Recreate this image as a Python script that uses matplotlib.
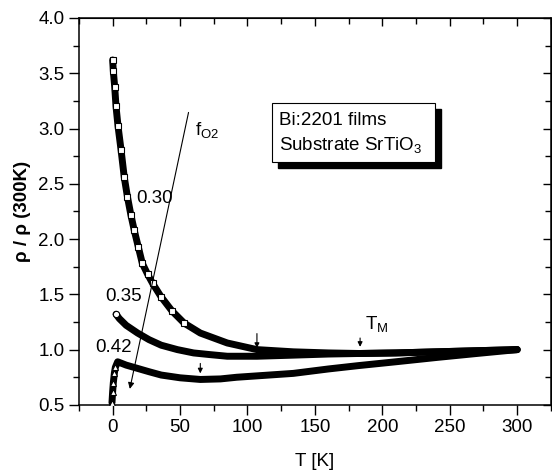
import matplotlib
matplotlib.use('Agg')
import matplotlib.pyplot as plt
from matplotlib.patches import Rectangle

plt.rcParams['font.family'] = ['Liberation Sans', 'DejaVu Sans']
plt.rcParams['mathtext.fontset'] = 'custom'
plt.rcParams['mathtext.rm'] = 'Liberation Sans'
plt.rcParams['mathtext.it'] = 'Liberation Sans:italic'

# f_O2 = 0.30 (squares)
T30 = [0, 0.5, 1.5, 2.5, 4, 6.2, 8.6, 11, 13.5, 16, 19, 22, 26, 29.6, 35.8, 44, 53,
       65, 85, 107, 134, 160, 183, 210, 240, 270, 300]
R30 = [3.62, 3.52, 3.38, 3.20, 3.02, 2.81, 2.56, 2.38, 2.22, 2.08, 1.93, 1.78, 1.68,
       1.60, 1.48, 1.35, 1.24, 1.15, 1.06, 1.00, 0.98, 0.97, 0.965, 0.97, 0.98, 0.99, 1.0]

# f_O2 = 0.35 (circles)
T35 = [2.5, 5, 10, 18.5, 27, 36, 48, 60, 72, 85, 107, 134, 160, 183, 210, 240, 270, 300]
R35 = [1.32, 1.28, 1.22, 1.15, 1.09, 1.04, 1.00, 0.97, 0.955, 0.94, 0.94, 0.95, 0.96,
       0.965, 0.97, 0.98, 0.99, 1.0]

# f_O2 = 0.42 (triangles)
T42 = [-0.5, 0, 0.5, 1.3, 2, 3.7, 10, 18.5, 27, 36, 50, 65, 80, 92, 110, 134, 160,
       182, 210, 241, 270, 300]
R42 = [0.52, 0.62, 0.70, 0.79, 0.84, 0.89, 0.86, 0.83, 0.80, 0.77, 0.745, 0.73, 0.735,
       0.75, 0.765, 0.785, 0.825, 0.855, 0.89, 0.93, 0.965, 1.0]

labels = ['0.30', '0.35', '0.42']
fs = 13.5

fig = plt.figure(figsize=(5.52, 4.73), dpi=100)
ax = fig.add_axes([0.143, 0.144, 0.855, 0.818])

# open markers only where the points are spread apart (steep part)
for T, R, m, n in [(T30, R30, 's', 17), (T35, R35, 'o', 1), (T42, R42, '^', 5)]:
    ax.plot(T, R, '-', color='k', lw=5, solid_capstyle='round', zorder=2)
    ax.plot(T[:n], R[:n], m, ms=4.5, mfc='white', mec='k', mew=0.8, zorder=3)

ax.text(17.5, 2.37, labels[0], fontsize=fs, va='center', ha='left')
ax.text(-5.5, 1.48, labels[1], fontsize=fs, va='center', ha='left')
ax.text(-13, 1.02, labels[2], fontsize=fs, va='center', ha='left')

# oxygen fraction arrow
ax.annotate('', xy=(12.3, 0.62), xytext=(56.7, 3.17),
            arrowprops=dict(arrowstyle='-|>', color='k', lw=0.8, mutation_scale=9))
ax.text(61, 2.99, r'f$_\mathrm{O2}$', fontsize=fs, va='center', ha='left')

# T_M arrows
arrow = dict(arrowstyle='-|>', color='k', lw=0.8, mutation_scale=7)
ax.annotate('', xy=(107, 0.99), xytext=(107, 1.17), arrowprops=arrow)
ax.annotate('', xy=(65, 0.76), xytext=(65, 0.90), arrowprops=arrow)
ax.annotate('', xy=(183.5, 1.0), xytext=(183.5, 1.13), arrowprops=arrow)
ax.text(187, 1.23, r'T$_\mathrm{M}$', fontsize=fs, va='center', ha='left')

# text box with shadow
ax.add_patch(Rectangle((122.5, 2.645), 121, 0.53, facecolor='k', edgecolor='k', zorder=4))
ax.add_patch(Rectangle((118, 2.70), 121, 0.53, facecolor='white', edgecolor='k',
                       lw=0.8, zorder=5))
ax.text(123, 3.07, 'Bi:2201 films', fontsize=fs, va='center', ha='left', zorder=6)
ax.text(123, 2.855, r'Substrate SrTiO$_\mathrm{3}$', fontsize=fs, va='center', ha='left', zorder=6)

ax.set_xlim(-25, 325)
ax.set_ylim(0.5, 4.0)
ax.set_xticks([0, 50, 100, 150, 200, 250, 300])
ax.set_xticks(range(-25, 326, 50), minor=True)
ax.set_yticks([0.5, 1.0, 1.5, 2.0, 2.5, 3.0, 3.5, 4.0])
ax.set_yticks([0.75 + 0.5 * i for i in range(7)], minor=True)
ax.set_xticklabels(['0', '50', '100', '150', '200', '250', '300'])
ax.set_yticklabels(['0.5', '1.0', '1.5', '2.0', '2.5', '3.0', '3.5', '4.0'])

ax.tick_params(which='both', direction='out', top=False, right=False, labelsize=fs, width=1)
ax.tick_params(which='major', length=7)
ax.tick_params(which='minor', length=4)

# inward ticks on top and right
ax_t = ax.secondary_xaxis('top')
ax_t.set_xticks([0, 50, 100, 150, 200, 250, 300])
ax_t.set_xticks(range(-25, 326, 50), minor=True)
ax_t.tick_params(which='both', direction='in', labeltop=False, width=1)
ax_t.tick_params(which='major', length=6)
ax_t.tick_params(which='minor', length=4)
ax_r = ax.secondary_yaxis('right')
ax_r.set_yticks([0.5, 1.0, 1.5, 2.0, 2.5, 3.0, 3.5, 4.0])
ax_r.set_yticks([0.75 + 0.5 * i for i in range(7)], minor=True)
ax_r.tick_params(which='both', direction='in', labelright=False, width=1)
ax_r.tick_params(which='major', length=6)
ax_r.tick_params(which='minor', length=4)

for s in ax.spines.values():
    s.set_linewidth(1.1)

ax.set_xlabel('T [K]', fontsize=fs, labelpad=12)
ax.set_ylabel('ρ / ρ (300K)', fontsize=fs, fontweight='bold', labelpad=5)

fig.savefig('out.png', dpi=100)
